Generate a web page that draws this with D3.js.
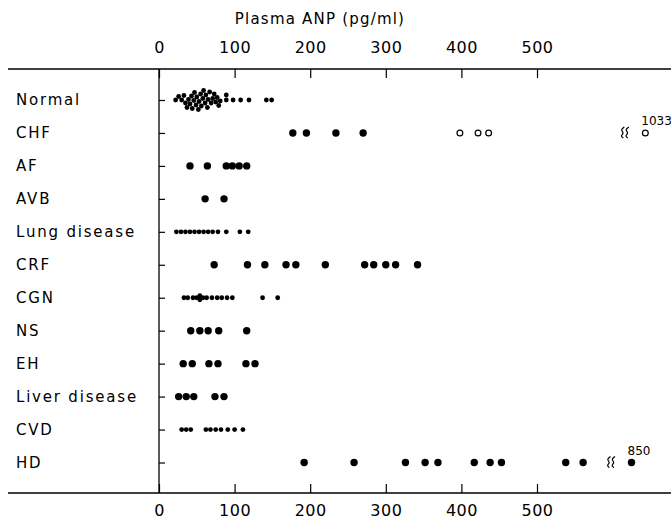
<!DOCTYPE html>
<html>
<head>
<meta charset="utf-8">
<script src="https://cdn.jsdelivr.net/npm/d3@7"></script>
<style>
  html, body { margin: 0; padding: 0; background: #fff; }
  svg { display: block; }
</style>
</head>
<body>
<div id="chart"></div>
<script>
// groups, top to bottom
const categories = ["Normal", "CHF", "AF", "AVB", "Lung disease", "CRF", "CGN", "NS", "EH", "Liver disease", "CVD", "HD"];

// plasma ANP values (pg/ml)
const normal = [22, 26, 30, 33, 35, 37, 39, 41, 43, 44, 46, 47, 49, 50, 52, 53, 55, 56, 58, 59, 61, 62, 64, 65, 67, 69, 71, 73, 75, 77, 79, 81, 89, 89, 98, 108, 119, 142, 149];
const chf = [177, 195, 234, 270];
const chfOpen = [398, 422, 436];
const af = [41, 64, 89, 97, 106, 116];
const avb = [61, 86];
const lung = [23, 29, 35, 41, 47, 53, 59, 65, 71, 78, 89, 107, 118];
const crf = [73, 117, 140, 168, 181, 220, 272, 284, 300, 313, 342];
const cgn = [33, 38, 45, 50, 54, 54, 58, 63, 70, 77, 83, 90, 97, 137, 157];
const ns = [42, 54, 65, 79, 116];
const eh = [32, 44, 66, 78, 115, 127];
const liver = [26, 36, 46, 74, 86];
const cvd = [30, 36, 42, 62, 68, 75, 82, 91, 100, 111];
const hd = [192, 258, 326, 352, 369, 417, 438, 453, 538, 561];

// values beyond the axis break
const outliers = [
    { group: "CHF", value: 1033, open: true },
    { group: "HD", value: 850, open: false }
];

const xTicks = [0, 100, 200, 300, 400, 500];

const seriesByGroup = {
    "Normal": normal, "CHF": chf, "AF": af, "AVB": avb, "Lung disease": lung,
    "CRF": crf, "CGN": cgn, "NS": ns, "EH": eh, "Liver disease": liver,
    "CVD": cvd, "HD": hd
};
const smallDotGroups = ["Normal", "Lung disease", "CGN", "CVD"];

const width = 671, height = 527;
const fontFamily = "'DejaVu Sans', sans-serif";
const axisTop = 69, axisBottom = 493, axisLeft = 159;
const rBig = 3.7, rSmall = 2.4;

const svg = d3.select("#chart").append("svg")
    .attr("width", width)
    .attr("height", height)
    .style("font-family", fontFamily);

// linear up to 600, compressed beyond the break
const x = d3.scaleLinear()
    .domain([0, 600, 1100])
    .range([axisLeft, axisLeft + 600 * 0.756, axisLeft + 650 * 0.756]);

const y = d3.scalePoint()
    .domain(categories)
    .range([100, 462.5]);

// title
svg.append("text")
    .attr("x", 320)
    .attr("y", 24)
    .attr("text-anchor", "middle")
    .style("font-size", "15px")
    .style("letter-spacing", "1.2px")
    .text("Plasma ANP (pg/ml)");

// frame lines
svg.append("line")
    .attr("x1", 8).attr("x2", width)
    .attr("y1", axisTop).attr("y2", axisTop)
    .attr("stroke", "#000").attr("stroke-width", 1.3);
svg.append("line")
    .attr("x1", 8).attr("x2", width)
    .attr("y1", axisBottom).attr("y2", axisBottom)
    .attr("stroke", "#000").attr("stroke-width", 1.3);
svg.append("line")
    .attr("x1", axisLeft).attr("x2", axisLeft)
    .attr("y1", axisTop).attr("y2", axisBottom)
    .attr("stroke", "#000").attr("stroke-width", 1.3);

const styleAxis = g => {
    g.select(".domain").remove();
    g.selectAll("line").attr("stroke", "#000").attr("stroke-width", 1.2);
    g.selectAll("text")
        .attr("fill", "#000")
        .style("font-family", fontFamily)
        .style("font-size", "16px")
        .style("letter-spacing", "0.5px");
};

svg.append("g")
    .attr("transform", `translate(0,${axisTop})`)
    .call(d3.axisTop(x).tickValues(xTicks).tickSize(-9).tickPadding(16).tickFormat(d3.format("d")))
    .call(styleAxis);

svg.append("g")
    .attr("transform", `translate(0,${axisBottom})`)
    .call(d3.axisBottom(x).tickValues(xTicks).tickSize(-9).tickPadding(12).tickFormat(d3.format("d")))
    .call(styleAxis);

// row ticks on the vertical axis
svg.append("g")
    .attr("transform", `translate(${axisLeft},0)`)
    .call(d3.axisLeft(y).tickSize(-6).tickFormat(""))
    .call(styleAxis);

// row labels
svg.append("g")
    .selectAll("text")
    .data(categories)
    .join("text")
    .attr("x", 16)
    .attr("y", d => y(d))
    .attr("dy", "0.36em")
    .style("font-size", "15px")
    .style("letter-spacing", "1.8px")
    .text(d => d);

// simple beeswarm dodge so overlapping dots stack vertically
function dodge(values, minDist) {
    const placed = [];
    values.slice().sort((a, b) => a - b).forEach(v => {
        const px = x(v);
        let dy = 0;
        for (let k = 0; k < 60; k++) {
            const cand = k === 0 ? 0 : (k % 2 ? -1 : 1) * Math.ceil(k / 2) * 0.5;
            const hit = placed.some(p => {
                const ddx = p.px - px, ddy = p.dy - cand;
                return ddx * ddx + ddy * ddy < minDist * minDist;
            });
            if (!hit) { dy = cand; break; }
        }
        placed.push({ v, px, dy });
    });
    return placed;
}

categories.forEach(group => {
    const small = smallDotGroups.includes(group);
    const r = small ? rSmall : rBig;
    const gap = group === "Normal" ? 4.6 : (small ? 3.6 : 5.5);
    const pts = dodge(seriesByGroup[group], gap);
    svg.append("g")
        .selectAll("circle")
        .data(pts)
        .join("circle")
        .attr("cx", d => d.px)
        .attr("cy", d => y(group) + d.dy)
        .attr("r", r)
        .attr("fill", "#000");
});

// open circles for CHF
svg.append("g")
    .selectAll("circle")
    .data(chfOpen)
    .join("circle")
    .attr("cx", d => x(d))
    .attr("cy", y("CHF"))
    .attr("r", 2.9)
    .attr("fill", "#fff")
    .attr("stroke", "#000")
    .attr("stroke-width", 1.2);

// outliers past the break, with break mark and value label
const wave = d3.line().curve(d3.curveBasis);
outliers.forEach(o => {
    const cx = x(o.value), cy = y(o.group);
    svg.append("circle")
        .attr("cx", cx).attr("cy", cy)
        .attr("r", o.open ? 2.9 : rBig)
        .attr("fill", o.open ? "#fff" : "#000")
        .attr("stroke", "#000")
        .attr("stroke-width", o.open ? 1.2 : 0);
    svg.append("text")
        .attr("x", cx - 4)
        .attr("y", cy - 8)
        .style("font-size", "12px")
        .text(o.value);
    const bx = cx - 24;
    [0, 4.5].forEach(off => {
        const sx = bx + off;
        svg.append("path")
            .attr("d", wave([[sx + 3, cy - 6], [sx - 1, cy - 3], [sx + 3, cy], [sx - 1, cy + 3], [sx + 2, cy + 5]]))
            .attr("fill", "none")
            .attr("stroke", "#000")
            .attr("stroke-width", 1.2);
    });
});
</script>
</body>
</html>
